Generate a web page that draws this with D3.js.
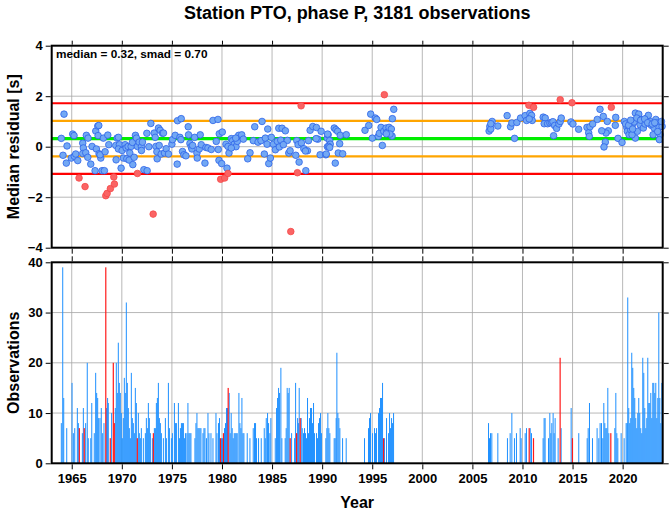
<!DOCTYPE html>
<html><head><meta charset="utf-8">
<script src="https://cdn.jsdelivr.net/npm/d3@7"></script>
<style>body{margin:0;background:#fff}svg{display:block}text{font-family:"Liberation Sans",Arial,Helvetica,sans-serif}</style>
</head><body><svg id="c" width="669" height="511"></svg>
<script>
const title = "Station PTO, phase P, 3181 observations";
const median = 0.32, smad = 0.70;
const xTicks = [1965,1970,1975,1980,1985,1990,1995,2000,2005,2010,2015,2020];
const yTicksTop = [-4,-2,0,2,4];
const yTicksBottom = [0,10,20,30,40];
const scatterBlue = [
[1964.23,1.29],[1963.96,0.33],[1964.53,0.03],[1964.13,-0.34],[1964.46,-0.65],[1965.1,0.5],[1965.23,0.44],[1964.96,-0.45],[1965.26,-0.38],[1965.4,-0.29],[1965.6,-0.55],[1966.1,0.14],[1966.16,-0.05],[1966.1,-0.27],[1966.46,0.45],[1966.63,0.34],[1966.4,-0.24],[1966.6,-0.42],[1966.9,-0.69],[1967.03,0.01],[1967.33,-0.95],[1968.03,-0.95],[1968.26,-0.95],[1967.4,0.62],[1967.6,0.82],[1967.7,0.84],[1967.63,0.44],[1967.46,-0.09],[1967.73,-0.28],[1967.9,-0.45],[1967.83,-0.32],[1968.16,0.34],[1968.6,0.46],[1968.33,-0.2],[1968.7,0.08],[1969.4,0.05],[1969.53,0.34],[1969.66,0.37],[1969.76,0.08],[1969.66,-0.09],[1969.93,-0.85],[1969.43,-0.52],[1970.03,-0.15],[1970.16,-0.45],[1970.33,0.08],[1970.43,-0.05],[1970.63,0.01],[1970.5,-0.48],[1970.73,-0.53],[1970.8,-0.25],[1970.93,0.01],[1971.06,0.17],[1971.1,-0.71],[1971.23,-0.42],[1971.36,0.45],[1971.46,0.34],[1971.56,0.01],[1971.73,0.18],[1971.96,0.0],[1971.96,-0.15],[1972.06,0.18],[1972.2,-0.91],[1972.53,-0.95],[1972.5,0.53],[1972.7,0.0],[1972.9,0.92],[1973.23,0.54],[1973.33,0.37],[1973.4,0.01],[1973.5,-0.2],[1973.66,0.74],[1973.83,0.65],[1973.73,0.05],[1974.06,0.53],[1974.16,0.54],[1973.53,-0.48],[1973.93,-0.29],[1974.26,-0.25],[1974.43,-0.08],[1974.66,-0.29],[1975.0,0.1],[1975.06,0.28],[1975.33,0.45],[1975.56,1.03],[1975.93,1.11],[1975.8,0.37],[1975.9,0.28],[1975.53,-0.69],[1976.06,-0.19],[1976.2,-0.32],[1976.4,-0.36],[1976.63,0.79],[1976.66,0.47],[1976.8,0.13],[1976.93,0.0],[1977.0,-0.09],
[1977.27,0.37],[1977.07,0.05],[1977.5,-0.25],[1977.53,-0.45],[1977.73,-0.09],[1977.93,0.08],[1977.83,0.47],[1978.3,-0.65],[1978.4,-0.03],[1978.6,-0.05],[1978.93,-0.11],[1979.1,1.04],[1979.6,1.08],[1979.43,0.21],[1979.63,-0.11],[1979.73,0.51],[1980.03,0.58],[1979.7,-0.54],[1979.97,-0.67],[1980.5,-0.85],[1980.4,0.1],[1980.6,0.01],[1980.7,-0.25],[1980.93,0.32],[1981.07,0.24],[1981.23,0.1],[1981.4,0.0],[1981.53,0.21],[1981.67,0.45],[1981.97,0.47],[1982.13,0.3],[1981.37,0.34],[1980.93,-0.05],[1982.57,-0.48],[1982.8,-0.24],[1983.13,0.24],[1983.27,0.79],[1983.6,0.18],[1984.0,1.0],[1983.9,0.24],[1984.33,0.34],[1984.5,0.1],[1984.23,-0.29],[1984.67,-0.67],[1984.83,-0.45],[1984.57,0.7],[1984.93,0.37],[1985.13,0.1],[1985.33,-0.12],[1985.53,0.21],[1985.73,-0.01],[1985.87,0.26],[1985.67,0.73],[1986.0,0.73],[1986.33,0.63],[1986.53,0.25],[1986.13,0.08],[1986.67,-0.25],[1986.8,-0.16],[1987.37,-0.34],[1987.7,-0.61],[1988.37,-0.95],[1987.47,0.24],[1987.6,0.08],[1987.93,0.15],[1988.17,-0.08],[1988.53,-0.16],[1988.63,0.24],[1988.33,-0.17],[1988.8,0.65],[1989.07,0.8],[1989.43,0.76],[1989.9,0.61],[1989.57,0.3],[1989.4,0.32],[1989.8,-0.32],[1990.37,-0.32],[1990.53,0.0],[1990.5,0.34],[1990.6,0.47],
[1990.55,0.5],[1990.41,-0.29],[1990.75,0.24],[1990.81,0.1],[1990.65,0.01],[1990.75,-0.03],[1991.21,0.74],[1991.38,0.67],[1991.55,0.61],[1991.81,0.45],[1991.75,0.12],[1992.41,0.475],[1991.61,-0.25],[1992.05,-0.28],[1991.31,-0.65],[1994.28,0.65],[1994.65,0.84],[1994.85,1.29],[1995.31,1.135],[1995.45,1.08],[1995.01,0.34],[1995.61,0.41],[1995.71,0.53],[1995.88,0.765],[1996.01,0.05],[1996.15,0.61],[1996.38,0.74],[1996.48,0.57],[1996.68,0.765],[1996.91,0.7],[1997.01,1.11],[1997.15,1.48],[1996.98,0.42],[1996.78,0.5],[1996.41,0.51],
[2006.67,0.62],[2006.74,0.8],[2006.84,0.7],[2006.97,1.0],[2006.84,0.91],[2007.54,0.82],[2008.47,1.23],[2008.81,0.79],[2008.94,0.94],[2009.21,0.33],[2009.44,0.96],[2009.81,1.135],[2010.27,1.23],[2010.41,1.04],[2010.74,1.32],[2010.91,1.24],[2010.97,1.04],[2010.67,1.1],[2012.07,1.17],[2012.27,1.135],[2012.17,0.91],[2012.51,0.91],[2012.74,0.94],[2012.91,0.96],[2013.04,0.99],[2013.21,0.84],[2013.11,0.435],[2013.41,0.725],[2013.64,0.9],[2013.77,1.0],[2013.87,1.135],[2014.84,0.98],[2015.04,0.9],[2015.61,0.69],[2016.44,0.765],[2016.61,0.55],[2016.67,0.41],[2016.74,0.79],[2017.01,0.9],[2017.47,1.08],[2017.74,1.48],[2018.07,1.2],[2018.47,1.0],[2018.57,0.63],[2018.34,0.54],[2017.91,0.63],[2018.27,0.18],[2018.14,-0.01],[2019.27,0.845],[2019.31,1.16],[2019.54,0.33],[2019.94,0.17],[2020.17,1.0],[2020.41,0.765],[2020.47,0.61],[2020.64,0.475],[2020.81,0.67],[2020.97,0.87],[2021.14,0.98],[2021.27,1.33],[2021.61,1.29],[2021.41,1.135],[2021.74,0.87],[2021.91,1.07],[2022.07,0.74],[2022.24,0.9],[2022.41,1.135],[2022.57,1.24],[2022.74,1.0],[2022.87,0.845],[2023.04,0.475],[2023.14,0.74],[2023.31,1.08],[2023.47,0.94],[2023.64,0.765],[2023.74,0.475],[2023.67,0.28],[2023.94,0.805],[2023.87,1.0],[2021.27,0.34],[2020.94,0.475],[2021.47,0.61],
[2020.3,0.9],[2020.6,0.85],[2021.0,0.7],[2021.8,1.05],[2022.2,1.1],[2022.5,0.95],[2022.95,0.9],[2023.2,0.95],[2023.5,0.6],[2020.8,1.05]
];
const scatterRed = [
[1965.73,-1.24],[1966.33,-1.58],[1968.4,-1.94],[1968.53,-1.85],[1968.86,-1.66],[1969.26,-1.48],[1969.2,-1.2],[1971.56,-1.06],[1973.13,-2.67],[1979.87,-1.29],[1980.27,-1.24],[1980.6,-1.06],[1987.9,1.62],[1987.53,-1.03],[1986.87,-3.36],[1996.21,2.06],[2010.64,1.64],[2011.11,1.56],[2013.77,1.86],[2014.94,1.74],[2018.87,1.56]
];
const barsBlue = [
[1963.96,8],[1964.1,39],[1964.2,13],[1964.5,7],[1965.03,16],[1965.16,6],[1965.3,7],[1965.56,11],[1965.66,8],[1966.06,6],[1966.16,11],[1966.39,8],[1966.55,20],[1966.65,5],[1966.9,5],[1967.0,12],[1967.25,6],[1967.39,18],[1967.49,14],[1967.59,13],[1967.69,9],[1967.82,9],[1967.95,11],[1968.09,6],[1968.22,8],[1968.48,11],[1968.58,13],[1968.65,12],[1968.98,10],[1969.35,11],[1969.45,20],[1969.55,14],[1969.65,24],[1969.75,16],[1969.85,14],[1969.95,10],[1970.05,5],[1970.15,9],[1970.25,17],[1970.35,14],[1970.45,32],[1970.55,16],[1970.65,11],[1970.75,7],[1970.85,5],[1970.95,18],[1971.05,9],[1971.15,8],[1971.25,6],[1971.35,15],[1971.45,12],[1971.65,10],[1971.75,6],[1971.85,5],[1971.95,7],[1972.15,5],[1972.35,6],[1972.45,9],[1972.55,7],[1972.65,12],[1972.75,9],[1972.85,6],[1973.05,5],[1973.25,7],[1973.35,7],[1973.45,12],[1973.55,13],[1973.65,16],[1973.75,9],[1973.85,8],[1973.95,6],[1974.15,5],[1974.35,9],[1974.45,5],[1974.65,16],[1974.75,7],[1974.95,5],[1975.05,6],[1975.25,12],[1975.35,8],[1975.45,8],[1975.65,12],[1975.75,5],[1975.85,7],[1975.95,8],[1976.05,8],[1976.15,8],[1976.25,5],[1976.35,6],[1976.5,6],[1976.6,12],[1976.7,6],[1976.8,6],[1976.9,6],[1977.3,5],[1977.4,8],[1977.5,10],[1977.6,7],[1977.7,7],[1977.8,7],[1977.9,7],[1978.1,6],[1978.2,7],[1978.3,7],[1978.45,5],[1978.6,10],[1978.7,6],[1978.9,6],[1979.1,5],[1979.4,10],[1979.5,6],[1979.65,8],[1979.75,9],[1979.95,5],[1980.05,5],[1980.25,7],[1980.35,8],[1980.45,11],[1980.55,11],[1980.72,14],[1980.82,6],[1980.92,10],[1981.02,7],[1981.12,5],[1981.22,6],[1981.32,6],[1981.42,6],[1981.52,6],[1981.69,14],[1981.79,8],[1981.89,7],[1981.99,13],[1982.09,6],[1982.19,6],[1982.52,6],[1982.79,5],[1983.12,7],[1983.25,8],[1983.35,8],[1983.45,5],[1983.65,5],[1983.92,5],[1984.22,7],[1984.32,5],[1984.42,9],[1984.55,10],[1984.65,8],[1984.78,6],[1984.88,9],[1985.32,5],[1985.45,11],[1985.55,13],[1985.65,15],[1985.75,14],[1985.88,19],[1985.98,5],[1986.31,5],[1986.41,7],[1986.51,15],[1986.61,14],[1986.71,15],[1986.95,6],[1987.25,5],[1987.35,16],[1987.55,9],[1987.65,8],[1987.71,15],[1987.91,9],[1988.01,7],[1988.14,6],[1988.24,7],[1988.34,6],[1988.44,5],[1988.54,13],[1988.64,6],[1988.74,9],[1988.84,11],[1988.94,11],[1989.04,8],[1989.14,12],[1989.24,6],[1989.44,6],[1989.54,5],[1989.64,8],[1989.74,9],[1989.84,10],[1989.94,6],[1990.37,5],[1990.47,7],[1990.57,10],[1990.67,7],[1990.77,6],[1991.2,5],[1991.3,5],[1991.4,9],[1991.47,22],[1991.57,10],[1991.67,9],[1991.77,7],[1992.04,5],[1992.4,5],[1994.23,5],[1994.63,7],[1994.73,9],[1994.83,10],[1995.03,6],[1995.23,7],[1995.33,6],[1995.43,7],[1995.63,10],[1995.73,11],[1995.83,13],[1995.93,13],[1996.03,16],[1996.23,5],[1996.43,9],[1996.63,6],[1996.73,10],[1996.83,7],[1996.93,9],[1997.03,8],[1997.13,10],
[2006.61,8],[2006.71,5],[2006.81,6],[2006.94,6],[2007.54,6],[2008.5,5],[2008.77,6],[2008.94,10],[2009.2,5],[2009.4,6],[2009.77,7],[2009.87,5],[2010.27,6],[2010.4,7],[2010.77,7],[2010.9,6],[2012.06,5],[2012.16,9],[2012.26,9],[2012.6,5],[2012.73,10],[2012.83,6],[2012.93,8],[2013.06,10],[2013.16,6],[2013.26,9],[2013.56,5],[2013.86,7],[2014.86,11],[2015.62,6],[2016.46,5],[2016.56,7],[2016.69,12],[2016.99,5],[2017.45,7],[2017.62,5],[2017.75,8],[2017.89,8],[2018.02,5],[2018.12,12],[2018.22,8],[2018.32,7],[2018.42,7],[2018.52,15],[2018.62,6],[2019.22,7],[2019.32,14],[2019.42,6],[2019.52,5],[2019.85,6],[2020.15,5],[2020.35,8],[2020.45,8],[2020.51,33],[2020.61,11],[2020.71,8],[2020.81,9],[2020.91,22],[2021.01,19],[2021.11,15],[2021.21,13],[2021.31,9],[2021.41,7],[2021.51,10],[2021.61,13],[2021.71,10],[2021.81,7],[2021.91,6],[2022.01,21],[2022.11,18],[2022.21,11],[2022.31,7],[2022.41,9],[2022.51,21],[2022.61,12],[2022.71,12],[2022.81,14],[2022.91,9],[2023.01,16],[2023.11,16],[2023.21,14],[2023.31,16],[2023.41,9],[2023.51,13],[2023.61,30],[2023.71,13],[2023.81,8],[2023.91,16]
];
const barsRed = [
[1965.76,7],[1966.25,7],[1968.4,39],[1968.85,5],[1969.15,20],[1969.25,8],[1971.55,5],[1973.15,6],[1979.85,5],[1980.15,6],[1980.62,15],[1986.81,5],[1987.45,6],[1987.81,9],[1996.13,5],[2010.67,7],[2011.1,5],[2013.76,21],[2014.99,5],[2018.82,6]
];

const svg = d3.select("#c");
const L = 51.7, R = 662.7;
const top1 = 45.7, bot1 = 247.7, top2 = 262.3, bot2 = 463.3;
const x = d3.scaleLinear().domain([1963, 2024]).range([L, R]);
const y1 = d3.scaleLinear().domain([-4, 4]).range([bot1, top1]);
const y2 = d3.scaleLinear().domain([0, 40]).range([bot2, top2]);
const grid = "#a6a6a6";

svg.append("text").attr("x", (L+R)/2).attr("y", 19).attr("text-anchor","middle")
  .attr("font-size", 18).attr("font-weight","bold").text(title);

// ---------- top panel ----------
const g1 = svg.append("g");
g1.selectAll(".gx").data(xTicks).join("line").attr("x1", d=>x(d)).attr("x2", d=>x(d))
  .attr("y1", top1).attr("y2", bot1).attr("stroke", grid).attr("stroke-width", 0.8);
g1.selectAll(".gy").data(yTicksTop.slice(1,-1)).join("line").attr("x1", L).attr("x2", R)
  .attr("y1", d=>y1(d)).attr("y2", d=>y1(d)).attr("stroke", grid).attr("stroke-width", 0.8);
const hlines = [
  {v: median + 2*smad, c: "#ff0000", w: 2.2},
  {v: median - 2*smad, c: "#ff0000", w: 2.2},
  {v: median + smad, c: "#ffa500", w: 2.2},
  {v: median - smad, c: "#ffa500", w: 2.2},
  {v: median, c: "#00ee00", w: 3.2}
];
g1.selectAll(".hl").data(hlines).join("line").attr("x1", L).attr("x2", R)
  .attr("y1", d=>y1(d.v)).attr("y2", d=>y1(d.v)).attr("stroke", d=>d.c).attr("stroke-width", d=>d.w);
g1.selectAll(".pb").data(scatterBlue).join("circle").attr("cx", d=>x(d[0])).attr("cy", d=>y1(d[1]))
  .attr("r", 3.3).attr("fill", "#72a8f4").attr("stroke", "#2d63e8").attr("stroke-width", 0.8);
g1.selectAll(".pr").data(scatterRed).join("circle").attr("cx", d=>x(d[0])).attr("cy", d=>y1(d[1]))
  .attr("r", 3.3).attr("fill", "#fa6464").attr("stroke", "#f54848").attr("stroke-width", 0.8);
g1.append("rect").attr("x", L).attr("y", top1).attr("width", R-L).attr("height", bot1-top1)
  .attr("fill","none").attr("stroke","#000").attr("stroke-width", 2);
g1.append("text").attr("x", 56).attr("y", 58).attr("font-size", 11.8).attr("font-weight","bold")
  .text(`median = ${median.toFixed(2)}, smad = ${smad.toFixed(2)}`);

// axes top
const axL1 = d3.axisLeft(y1).tickValues(yTicksTop).tickSize(5).tickPadding(3).tickFormat(d3.format("d"));
const aL1 = svg.append("g").attr("transform", `translate(${L-1},0)`).call(axL1);
const axR1 = d3.axisRight(y1).tickValues(yTicksTop).tickSize(5).tickFormat("");
const aR1 = svg.append("g").attr("transform", `translate(${R+1},0)`).call(axR1);
const axT1 = d3.axisTop(x).tickValues(xTicks).tickSize(4).tickFormat("");
const aT1 = svg.append("g").attr("transform", `translate(0,${top1-1})`).call(axT1);
const axB1 = d3.axisBottom(x).tickValues(xTicks).tickSize(5).tickFormat("");
const aB1 = svg.append("g").attr("transform", `translate(0,${bot1+1})`).call(axB1);

// ---------- bottom panel ----------
const g2 = svg.append("g");
g2.selectAll(".gx").data(xTicks).join("line").attr("x1", d=>x(d)).attr("x2", d=>x(d))
  .attr("y1", top2).attr("y2", bot2).attr("stroke", grid).attr("stroke-width", 0.8);
g2.selectAll(".gy").data(yTicksBottom.slice(1,-1)).join("line").attr("x1", L).attr("x2", R)
  .attr("y1", d=>y2(d)).attr("y2", d=>y2(d)).attr("stroke", grid).attr("stroke-width", 0.8);
const bw = 1.0;
g2.selectAll(".bb").data(barsBlue).join("rect").attr("x", d=>x(d[0]) - bw/2).attr("width", bw)
  .attr("y", d=>y2(d[1])).attr("height", d=>bot2 - y2(d[1])).attr("fill", "#1e90ff");
g2.selectAll(".br").data(barsRed).join("rect").attr("x", d=>x(d[0]) - 0.6).attr("width", 1.2)
  .attr("y", d=>y2(d[1])).attr("height", d=>bot2 - y2(d[1])).attr("fill", "#ff1a1a");
g2.append("rect").attr("x", L).attr("y", top2).attr("width", R-L).attr("height", bot2-top2)
  .attr("fill","none").attr("stroke","#000").attr("stroke-width", 2);

const axL2 = d3.axisLeft(y2).tickValues(yTicksBottom).tickSize(5).tickPadding(3);
const aL2 = svg.append("g").attr("transform", `translate(${L-1},0)`).call(axL2);
const axR2 = d3.axisRight(y2).tickValues(yTicksBottom).tickSize(5).tickFormat("");
const aR2 = svg.append("g").attr("transform", `translate(${R+1},0)`).call(axR2);
const axT2 = d3.axisTop(x).tickValues(xTicks).tickSize(5).tickFormat("");
const aT2 = svg.append("g").attr("transform", `translate(0,${top2-1})`).call(axT2);
const axB2 = d3.axisBottom(x).tickValues(xTicks).tickSize(5).tickPadding(4).tickFormat(d3.format("d"));
const aB2 = svg.append("g").attr("transform", `translate(0,${bot2+1})`).call(axB2);

[aL1,aR1,aT1,aB1,aL2,aR2,aT2,aB2].forEach(a => {
  a.select(".domain").remove();
  a.selectAll(".tick line").attr("stroke","#000").attr("stroke-width",1);
  a.selectAll(".tick text").attr("font-size",13).attr("font-weight","bold").attr("fill","#000")
   .attr("font-family",'"Liberation Sans",Arial,sans-serif');
});

svg.append("text").attr("transform", `translate(19,${(top1+bot1)/2}) rotate(-90)`)
  .attr("text-anchor","middle").attr("font-size",16).attr("font-weight","bold").text("Median residual [s]");
svg.append("text").attr("transform", `translate(19,${(top2+bot2)/2}) rotate(-90)`)
  .attr("text-anchor","middle").attr("font-size",16).attr("font-weight","bold").text("Observations");
svg.append("text").attr("x",(L+R)/2).attr("y",508).attr("text-anchor","middle")
  .attr("font-size",16).attr("font-weight","bold").text("Year");
</script></body></html>
